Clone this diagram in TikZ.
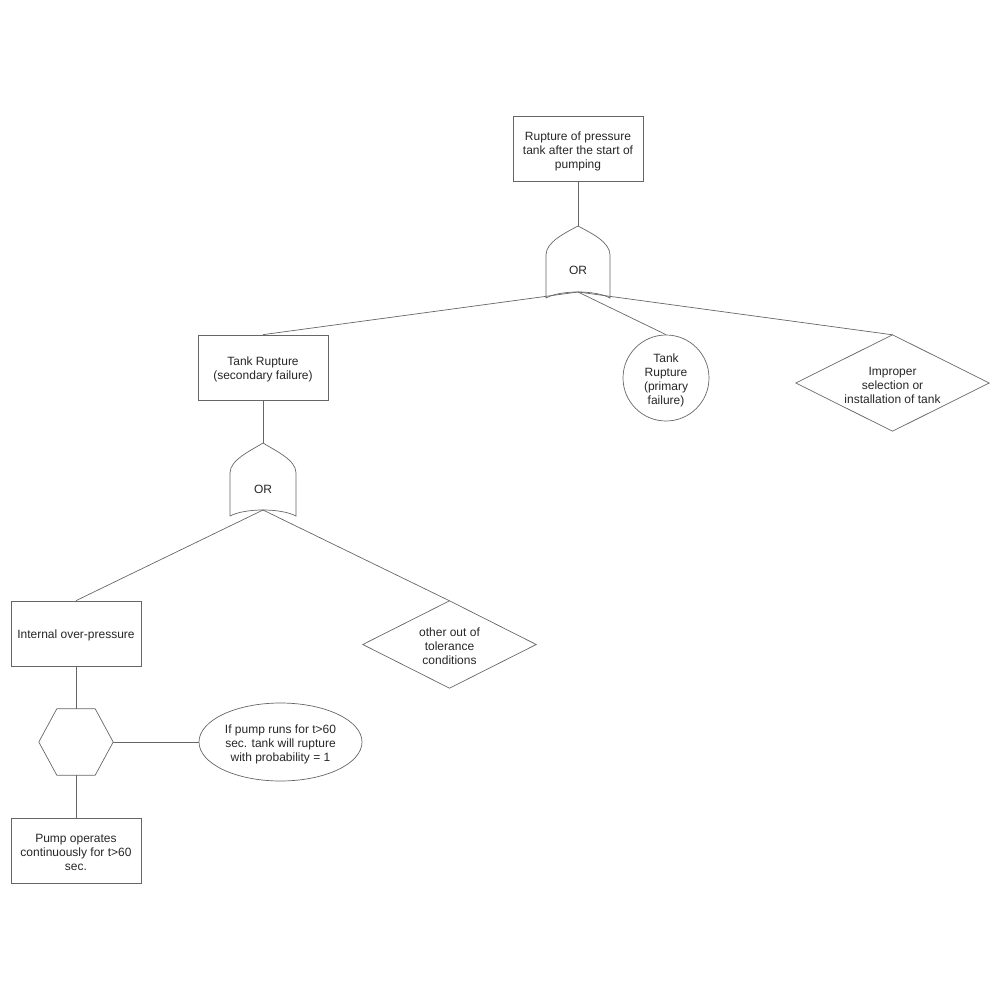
\documentclass[tikz,border=0pt]{standalone}
\usepackage{fontspec}
\setmainfont{Liberation Sans}
\usetikzlibrary{shapes.geometric}
\begin{document}
\begin{tikzpicture}[x=1pt,y=-1pt,
  lc/.style={draw=black!60, line width=0.7pt},
  txt/.style={font=\fontsize{12}{14}\selectfont, align=center, text=black!85, inner sep=0pt},
  evbox/.style={lc, draw, rectangle, minimum width=130pt, minimum height=65pt, inner sep=0pt},
  shapebox/.style={rectangle, inner sep=0pt}
]
\useasboundingbox (0,0) rectangle (1000,1000);

% boxes
\node[evbox] (top) at (578,149) {};
\node[txt] (top-t) at ([yshift=-2pt]top.center) {Rupture of pressure\\tank after the start of\\pumping};
\node[evbox] (sec) at (263,367.5) {};
\node[txt] (sec-t) at ([yshift=-2pt]sec.center) {Tank Rupture\\(secondary failure)};
\node[evbox] (iop) at (76,633.5) {};
\node[txt] (iop-t) at ([yshift=-2pt]iop.center) {Internal over-pressure};
\node[evbox] (pump) at (76,850.5) {};
\node[txt] (pump-t) at ([yshift=-2pt]pump.center) {Pump operates\\continuously for t>60\\sec.};

% circle and ellipse
\node[lc, draw, circle, minimum size=86pt, inner sep=0pt] (prim) at (666,378) {};
\node[txt] (prim-t) at ([yshift=-2pt]prim.center) {Tank\\Rupture\\(primary\\failure)};
\node[lc, draw, ellipse, minimum width=163pt, minimum height=78pt, inner sep=0pt] (cond) at (280.5,742) {};
\node[txt] (cond-t) at ([yshift=-2pt]cond.center) {If pump runs for t>60\\sec. tank will rupture\\with probability = 1};

% diamonds
\node[shapebox, minimum width=193pt, minimum height=96pt] (imp) at (892.5,383) {};
\draw[lc] (imp.north) -- (imp.east) -- (imp.south) -- (imp.west) -- cycle;
\node[txt] (imp-t) at ([yshift=-2pt]imp.center) {Improper\\selection or\\installation of tank};
\node[shapebox, minimum width=173pt, minimum height=87pt] (oth) at (449.5,644.5) {};
\draw[lc] (oth.north) -- (oth.east) -- (oth.south) -- (oth.west) -- cycle;
\node[txt] (oth-t) at ([yshift=-2pt]oth.center) {other out of\\tolerance\\conditions};

% hexagon
\node[shapebox, minimum width=74pt, minimum height=66pt] (hex) at (76,742) {};
\draw[lc] (hex.west) -- ([xshift=18pt]hex.north west) -- ([xshift=-18pt]hex.north east) -- (hex.east)
  -- ([xshift=-18pt]hex.south east) -- ([xshift=18pt]hex.south west) -- cycle;

% OR gate 1
\coordinate (g1t) at (578,226);
\coordinate (g1b) at (578,292);
\draw[lc] (546,298) -- (546,255) .. controls (546,242) and (565,233) .. (g1t)
  .. controls (591,233) and (610,242) .. (610,255) -- (610,298)
  .. controls (596,290) and (560,290) .. (546,298);
\node[txt] (g1) at (578,270.5) {OR};

% OR gate 2
\coordinate (g2t) at (263,443);
\coordinate (g2b) at (263,510);
\draw[lc] (230,516) -- (230,473) .. controls (230,460) and (250,451) .. (g2t)
  .. controls (276,451) and (296,460) .. (296,473) -- (296,516)
  .. controls (281,508) and (245,508) .. (230,516);
\node[txt] (g2) at (263,489.5) {OR};

% connectors
\draw[lc] (top.south) -- (g1t);
\draw[lc] (g1b) -- (sec.north);
\draw[lc] (g1b) -- (prim.north);
\draw[lc] (g1b) -- (imp.north);
\draw[lc] (sec.south) -- (g2t);
\draw[lc] (g2b) -- (iop.north);
\draw[lc] (g2b) -- (oth.north);
\draw[lc] (iop.south) -- (hex.north);
\draw[lc] (hex.east) -- (cond.west);
\draw[lc] (hex.south) -- (pump.north);
\end{tikzpicture}
\end{document}
